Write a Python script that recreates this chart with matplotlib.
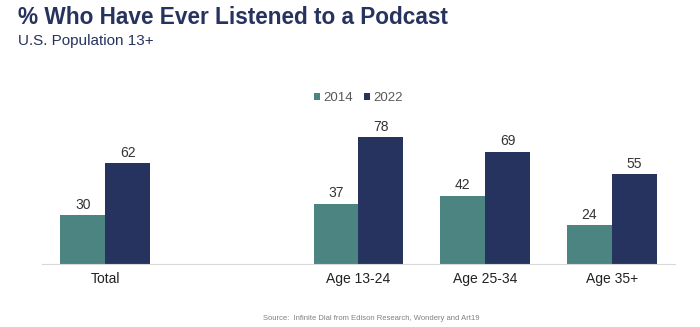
import matplotlib.pyplot as plt
import numpy as np

plt.rcParams['font.family'] = ['Liberation Sans', 'DejaVu Sans']

# data
categories = ['Total', 'Age 13-24', 'Age 25-34', 'Age 35+']
positions = [0, 2, 3, 4]
vals_2014 = [30, 37, 42, 24]
vals_2022 = [62, 78, 69, 55]

teal = '#4b8480'
navy = '#27335f'

fig = plt.figure(figsize=(7, 3.27), dpi=100)
ax = fig.add_axes([42/700, 1 - 264/327, (675-42)/700, (264-110)/327])

x = np.array(positions)
w = 0.355
b1 = ax.bar(x - w/2, vals_2014, w, color=teal, label='2014')
b2 = ax.bar(x + w/2, vals_2022, w, color=navy, label='2022')
for bars in (b1, b2):
    for r in bars:
        ax.text(r.get_x() + r.get_width()/2, r.get_height() + 2.0, str(int(r.get_height())),
                ha='center', va='bottom', fontsize=10, color='#333333')

ax.set_xlim(-0.5, 4.5)
ax.set_ylim(0, 94.5)
ax.set_xticks(positions)
ax.set_xticklabels(categories, fontsize=10, color='#222222')
ax.tick_params(axis='x', length=0, pad=6)
ax.set_yticks([])
for s in ['top', 'right', 'left']:
    ax.spines[s].set_visible(False)
ax.spines['bottom'].set_color('#d9d9d9')

leg = ax.legend(loc='center', bbox_to_anchor=(0.5, 1 + 12/154), ncol=2, frameon=False,
                fontsize=9.5, handlelength=0.5, handleheight=0.5, handletextpad=0.25,
                columnspacing=0.8)
for t in leg.get_texts():
    t.set_color('#595959')

fig.text(18/700, 1 - 17/327, '% Who Have Ever Listened to a Podcast', fontsize=16.3,
         fontweight='bold', color=navy, va='center', ha='left')
fig.text(18/700, 1 - 41/327, 'U.S. Population 13+', fontsize=11, color=navy,
         va='center', ha='left')
fig.text(263/700, 1 - 318/327, 'Source:  Infinite Dial from Edison Research, Wondery and Art19',
         fontsize=5.5, color='#808080', va='center', ha='left')

fig.savefig('out.png', dpi=100)
